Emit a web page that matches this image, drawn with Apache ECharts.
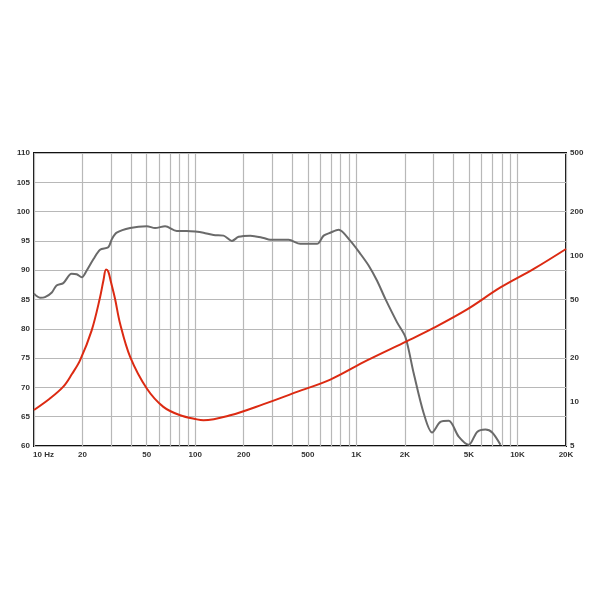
<!DOCTYPE html>
<html>
<head>
<meta charset="utf-8">
<script src="https://cdn.jsdelivr.net/npm/echarts@6/dist/echarts.min.js"></script>
<style>html,body{margin:0;padding:0;background:#fff}#c{width:600px;height:600px}</style>
</head>
<body>
<div id="c"></div>
<script>
// Frequency response (SPL, dB) - frequency in Hz
const splFreq = [10, 10.9, 11.7, 12.9, 13.8, 15.2, 17.1, 18.4, 19.8, 21.2, 23.4, 25.7, 28.9, 30.4, 32.6, 39.5, 50.1, 56.4, 65.1, 76.9, 88.8, 100, 112.6, 130, 150, 169, 186, 220, 266, 292, 380, 449, 570, 627, 690, 776, 918, 1059, 1192, 1345, 1514, 1790, 2016, 2270, 2618, 2953, 3326, 3744, 4317, 4984, 5620, 6325, 6966, 7840];
const splDb   = [86.0, 85.3, 85.4, 86.2, 87.4, 87.8, 89.4, 89.3, 88.8, 89.9, 91.9, 93.5, 93.9, 95.3, 96.4, 97.2, 97.5, 97.2, 97.5, 96.7, 96.7, 96.6, 96.4, 96.0, 95.9, 95.0, 95.7, 95.9, 95.5, 95.2, 95.2, 94.5, 94.5, 95.9, 96.4, 96.9, 95.0, 92.8, 90.8, 88.2, 85.1, 81.1, 78.6, 72.4, 65.6, 62.3, 64.1, 64.3, 61.6, 60.2, 62.4, 62.8, 62.3, 60.2];
// Impedance (ohm)
const impFreq = [10, 12.5, 15.2, 17.2, 19.3, 22.8, 25.7, 27.0, 28.0, 28.9, 30.0, 31.8, 34.2, 39.5, 50.1, 63.5, 80.7, 102.5, 112.6, 165, 266, 428, 690, 1165, 2065, 3020, 4870, 7840, 12620, 20000];
const impOhm  = [8.8, 10.5, 12.7, 15.5, 19.2, 30.8, 51.8, 68, 80, 77.5, 66, 50.8, 34.3, 20.3, 12.35, 9.25, 8.1, 7.6, 7.5, 8.1, 9.65, 11.7, 14.2, 19.2, 26.0, 32, 42.8, 60.4, 80.9, 110.6];
// Axis ticks
const dbTicks = [60, 65, 70, 75, 80, 85, 90, 95, 100, 105, 110];
const ohmTicks = [5, 10, 20, 50, 100, 200, 500];
const freqGrid = [10,20,30,40,50,60,70,80,90,100,200,300,400,500,600,700,800,900,1000,2000,3000,4000,5000,6000,7000,8000,9000,10000,20000];
const freqLabels = [10, 20, 50, 100, 200, 500, 1000, 2000, 5000, 10000, 20000];
const freqLabelText = ['10 Hz', '20', '50', '100', '200', '500', '1K', '2K', '5K', '10K', '20K'];

const chart = echarts.init(document.getElementById('c'), null, {renderer: 'canvas'});
const labelFont = {color: '#333', fontSize: 8, fontWeight: 'bold', fontFamily: 'Liberation Sans, Arial, sans-serif'};
chart.setOption({
  animation: false,
  backgroundColor: '#fff',
  grid: {left: 34, right: 34, top: 153, bottom: 154, show: true, borderColor: '#111', borderWidth: 2, backgroundColor: '#fff'},
  xAxis: {
    type: 'log', logBase: 10, min: 10, max: 20000,
    axisLine: {show: false},
    axisTick: {show: false, customValues: freqGrid},
    splitLine: {show: true, lineStyle: {color: '#b8b8b8', width: 1.2}},
    axisLabel: Object.assign({
      customValues: freqLabels,
      margin: 5,
      formatter: function (v) {
        const i = freqLabels.findIndex(function (f) { return Math.abs(f - v) / f < 1e-6; });
        const t = i >= 0 ? freqLabelText[i] : '';
        return i === 0 ? '{first|' + t + '}' : t;
      },
      rich: {first: Object.assign({padding: [0, 0, 0, 19]}, labelFont)}
    }, labelFont)
  },
  yAxis: [{
    type: 'value', min: 60, max: 110, interval: 5, position: 'left',
    axisLine: {show: false}, axisTick: {show: false},
    splitLine: {show: true, lineStyle: {color: '#b8b8b8', width: 1.2}},
    axisLabel: Object.assign({margin: 4, customValues: dbTicks}, labelFont)
  }, {
    type: 'log', logBase: 10, min: 5, max: 500, position: 'right',
    axisLine: {show: false},
    axisTick: {show: false, customValues: ohmTicks},
    splitLine: {show: false},
    axisLabel: Object.assign({margin: 4, customValues: ohmTicks}, labelFont)
  }],
  series: [{
    name: 'SPL', type: 'line', xAxisIndex: 0, yAxisIndex: 0,
    data: splFreq.map(function (f, i) { return [f, splDb[i]]; }),
    showSymbol: false, smooth: 0.3, clip: true,
    lineStyle: {color: '#6a6a6a', width: 2}, z: 3
  }, {
    name: 'Impedance', type: 'line', xAxisIndex: 0, yAxisIndex: 1,
    data: impFreq.map(function (f, i) { return [f, impOhm[i]]; }),
    showSymbol: false, smooth: 0.35, clip: true,
    lineStyle: {color: '#dc2a12', width: 2}, z: 4
  }]
});
</script>
</body>
</html>
